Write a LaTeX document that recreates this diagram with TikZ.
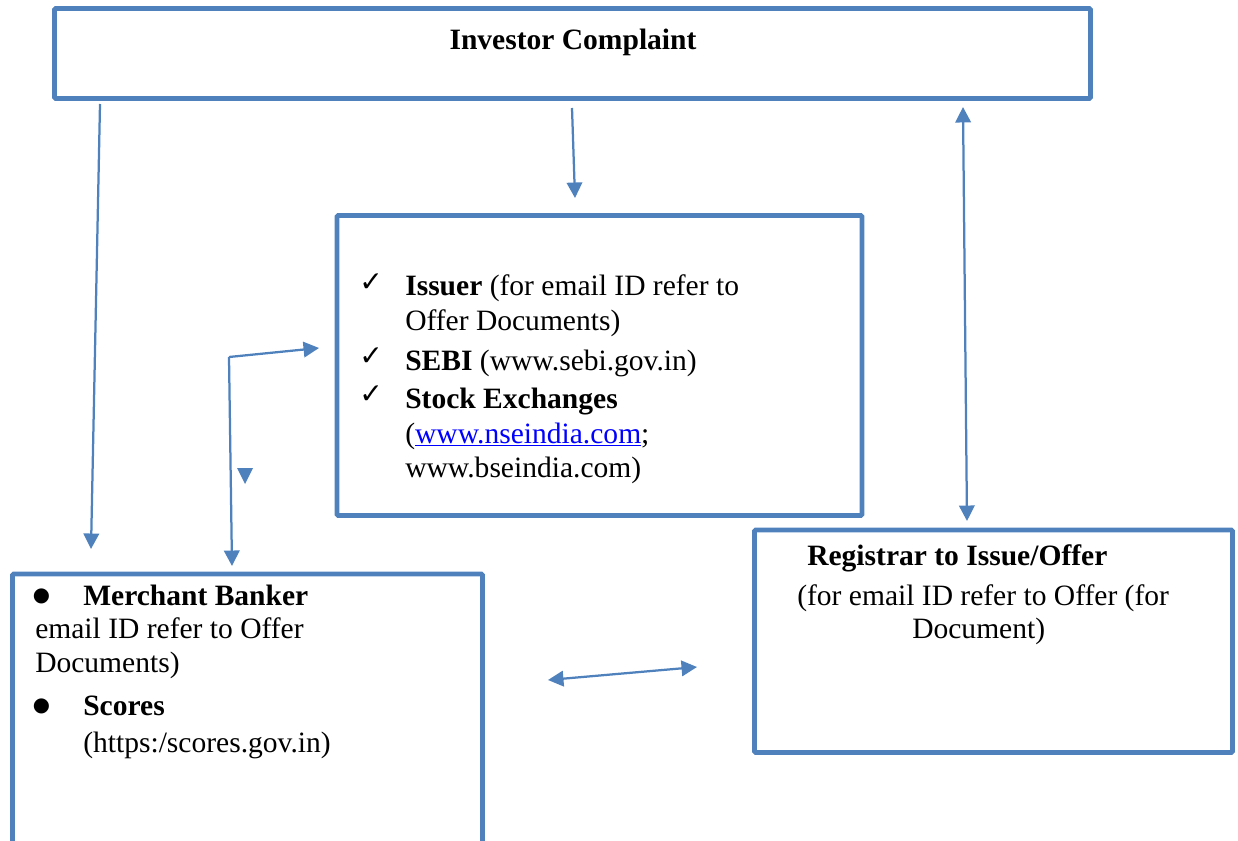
\documentclass[tikz,border=0pt]{standalone}
\usepackage{fontspec}
\setmainfont{Liberation Serif}
\newfontfamily\symfont{DejaVu Sans}
\usetikzlibrary{arrows.meta}
\definecolor{boxblue}{HTML}{4F81BD}
\tikzset{
  box/.style={draw=boxblue, line width=3.5pt, rounded corners=1pt},
  txt/.style={anchor=base west, inner sep=0pt, font=\fontsize{21}{24}\selectfont},
  arr/.style={draw=boxblue, line width=1.6pt, -{Triangle[length=11pt,width=11pt]}},
  darr/.style={arr, {Triangle[length=11pt,width=11pt]}-{Triangle[length=11pt,width=11pt]}}
}
\begin{document}
\begin{tikzpicture}[x=0.025cm, y=-0.025cm]
\useasboundingbox (0,0) rectangle (1238,841);
% Boxes
\draw[box] (54.5,8.5) rectangle (1090.5,98.5);
\draw[box] (337,215.5) rectangle (862,515.5);
\draw[box] (12.5,574) rectangle (482.5,860);
\draw[box] (754.5,530) rectangle (1232.5,752.5);
% Investor
\node[txt, anchor=base] (title) at (573,50) {\textbf{Investor Complaint}};
% Issuer, SEBI, exchanges
\foreach \y [count=\i] in {291,365,403}
  \node[txt, font=\symfont\bfseries\fontsize{20}{20}\selectfont] (chk\i) at (359,\y) {✓};
\foreach \y/\t [count=\i] in {295/{\textbf{Issuer} (for email ID refer to},
    330/{Offer Documents)}, 370/{\textbf{SEBI} (www.sebi.gov.in)},
    408/{\textbf{Stock Exchanges}},
    443/{(\textcolor{blue}{\underline{www.nseindia.com}};},
    477/{www.bseindia.com)}}
  \node[txt] (iss\i) at (405,\y) {\t};
% Merchant banker, scores
\foreach \y [count=\i] in {596,706}
  \node[font=\symfont\fontsize{14}{14}\selectfont, inner sep=0pt] (bul\i) at (41.5,\y) {●};
\node[txt] (mb1) at (83,605) {\textbf{Merchant Banker}};
\node[txt] (mb2) at (35,638) {email ID refer to Offer};
\node[txt] (mb3) at (35,672) {Documents)};
\node[txt] (sc1) at (83,715) {\textbf{Scores}};
\node[txt] (sc2) at (83,752) {(https:/scores.gov.in)};
% Registrar
\node[txt] (rg1) at (807,565) {\textbf{Registrar to Issue/Offer}};
\node[txt] (rg2) at (797,605) {(for email ID refer to Offer (for};
\node[txt] (rg3) at (912,638) {Document)};
% Arrows
\coordinate (a1s) at (100,104);  \coordinate (a1e) at (91,549);
\coordinate (a2s) at (572,108);  \coordinate (a2e) at (575,198);
\coordinate (a3s) at (963,107);  \coordinate (a3e) at (967,521);
\coordinate (crn) at (229,357);
\coordinate (a4r) at (319,348);  \coordinate (a4d) at (232,566);
\coordinate (a5s) at (548,680);  \coordinate (a5e) at (697,667);
\draw[arr] (a1s) -- (a1e);
\draw[arr] (a2s) -- (a2e);
\draw[darr] (a3s) -- (a3e);
\draw[arr] (crn) -- (a4r);
\draw[arr] (crn) -- (a4d);
\draw[darr] (a5s) -- (a5e);
\fill[boxblue] (237,468) -- (253,468) -- (245,484) -- cycle;
\end{tikzpicture}
\end{document}
